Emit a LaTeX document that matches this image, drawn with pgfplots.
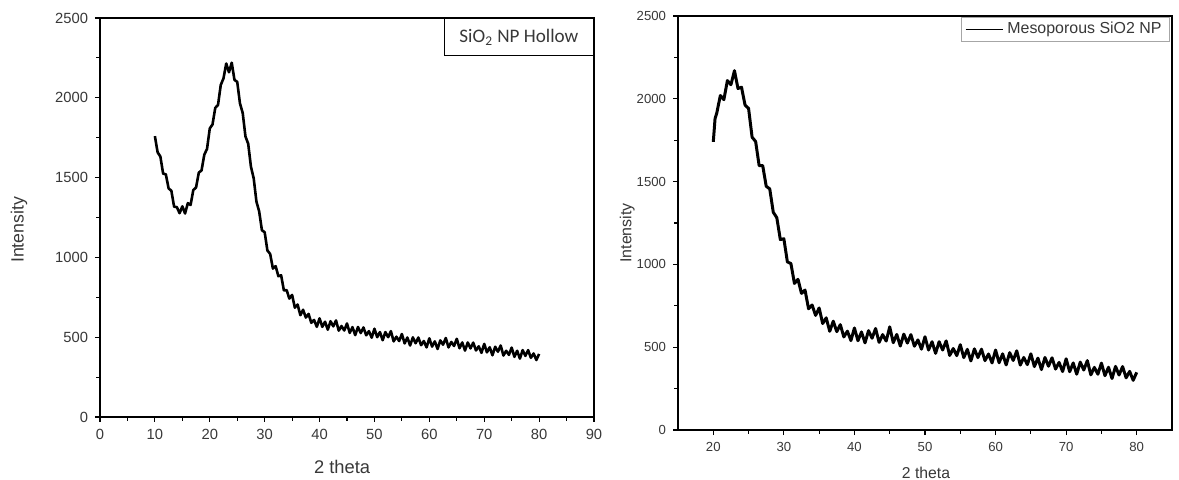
\documentclass[border=0pt]{standalone}
\usepackage{pgfplots}
\pgfplotsset{compat=1.18}
\usepackage{fontspec}
\setmainfont{Liberation Sans}
\newfontfamily\calibri{Carlito}

\definecolor{txt}{gray}{0.22}

\begin{document}
\begin{tikzpicture}
\useasboundingbox (0,0) rectangle (589.5bp,240bp);

% ---------------- left panel ----------------
\begin{axis}[
  at={(50bp,31.5bp)}, anchor=south west,
  scale only axis, width=247bp, height=199.5bp,
  xmin=0, xmax=90, ymin=0, ymax=2500,
  xtick={0,10,...,90}, minor xtick={5,15,...,85},
  ytick={0,500,...,2500}, minor ytick={250,750,...,2250},
  xtick pos=bottom, ytick pos=left,
  tick align=outside,
  major tick length=2.5bp, minor tick length=1.8bp,
  every tick/.style={black, line width=0.6pt},
  axis line style={line width=0.7pt},
  /pgf/number format/assume math mode=true,
  /pgf/number format/1000 sep={},
  tick label style={font=\fontsize{7.4}{8}\selectfont, text=txt},
  xlabel={2 theta}, ylabel={Intensity},
  xlabel style={at={(axis description cs:0.49,-0.125)}, anchor=center, font=\fontsize{9.2}{10}\selectfont, text=txt},
  ylabel style={at={(axis description cs:-0.164,0.469)}, anchor=center, font=\fontsize{8.9}{10}\selectfont, text=txt},
]
\addplot[black, line width=1.3pt, line join=round] coordinates {
(10.0,1760) (10.5,1658) (11.0,1632) (11.5,1525) (12.0,1520) (12.5,1432) (13.0,1418) (13.5,1318)
(14.0,1315) (14.5,1277) (15.0,1320) (15.5,1275) (16.0,1340) (16.5,1328) (17.0,1422) (17.5,1438)
(18.0,1531) (18.5,1545) (19.0,1643) (19.5,1680) (20.0,1808) (20.5,1833) (21.0,1937) (21.5,1955)
(22.0,2080) (22.5,2122) (23.0,2215) (23.5,2160) (24.0,2220) (24.5,2112) (25.0,2100) (25.5,1965)
(26.0,1905) (26.5,1758) (27.0,1712) (27.5,1568) (28.0,1496) (28.5,1350) (29.0,1288) (29.5,1170)
(30.0,1158) (30.5,1043) (31.0,1022) (31.5,930) (32.0,945) (32.5,882) (33.0,888) (33.5,793)
(34.0,795) (34.5,742) (35.0,765) (35.5,685) (36.0,705) (36.5,638) (37.0,672) (37.5,623)
(38.0,646) (38.5,590) (39.0,608) (39.5,565) (40.0,618) (40.5,565) (41.0,597) (41.5,547)
(42.0,600) (42.5,568) (43.0,605) (43.5,541) (44.0,570) (44.5,542) (45.0,586) (45.5,527)
(46.0,563) (46.5,513) (47.0,564) (47.5,526) (48.0,561) (48.5,512) (49.0,538) (49.5,497)
(50.0,553) (50.5,500) (51.0,532) (51.5,481) (52.0,532) (52.5,500) (53.0,538) (53.5,474)
(54.0,503) (54.5,476) (55.0,520) (55.5,461) (56.0,498) (56.5,448) (57.0,499) (57.5,462)
(58.0,498) (58.5,450) (59.0,476) (59.5,436) (60.0,493) (60.5,441) (61.0,474) (61.5,426)
(62.0,480) (62.5,453) (63.0,495) (63.5,436) (64.0,470) (64.5,445) (65.0,490) (65.5,431)
(66.0,467) (66.5,416) (67.0,467) (67.5,430) (68.0,466) (68.5,417) (69.0,443) (69.5,402)
(70.0,458) (70.5,405) (71.0,437) (71.5,387) (72.0,440) (72.5,409) (73.0,448) (73.5,385)
(74.0,415) (74.5,389) (75.0,435) (75.5,377) (76.0,415) (76.5,366) (77.0,419) (77.5,383)
(78.0,419) (78.5,371) (79.0,398) (79.5,357) (80.0,395)
};
\node[draw, line width=0.6pt, anchor=north east, minimum width=74.5bp, minimum height=18.5bp,
      inner sep=1bp, font=\calibri\fontsize{9.6}{11}\selectfont, text=txt]
  at (rel axis cs:1,1) {SiO\textsubscript{2} NP Hollow};
\end{axis}

% ---------------- right panel ----------------
\begin{axis}[
  at={(339bp,25bp)}, anchor=south west,
  scale only axis, width=247bp, height=207bp,
  xmin=15, xmax=85, ymin=0, ymax=2500,
  xtick={20,30,...,80}, minor xtick={25,35,...,75},
  ytick={0,500,...,2500}, minor ytick={250,750,...,2250},
  xtick pos=bottom, ytick pos=left,
  tick align=outside,
  major tick length=2.5bp, minor tick length=1.8bp,
  every tick/.style={black, line width=0.6pt},
  axis line style={line width=0.7pt},
  /pgf/number format/assume math mode=true,
  /pgf/number format/1000 sep={},
  tick label style={font=\fontsize{6.6}{7.5}\selectfont, text=txt},
  xlabel={2 theta}, ylabel={Intensity},
  xlabel style={at={(axis description cs:0.502,-0.104)}, anchor=center, font=\fontsize{7.9}{9}\selectfont, text=txt},
  ylabel style={at={(axis description cs:-0.103,0.476)}, anchor=center, font=\fontsize{8}{9}\selectfont, text=txt},
  legend style={at={(0.996,0.998)}, anchor=north east, draw=gray!70, line width=0.5pt,
                font=\fontsize{8}{9}\selectfont, text=txt, inner xsep=2bp, inner ysep=0.5bp},
  legend image code/.code={\draw[black, line width=0.7pt] (0bp,0bp) -- (18.5bp,0bp);},
  legend cell align=left,
]
\addplot[black, line width=1.5pt, line join=round] coordinates {
(20.0,1740) (20.25,1880) (20.5,1915) (21.0,2020) (21.5,1995) (22.0,2110) (22.5,2085) (23.0,2170)
(23.5,2062) (24.0,2070) (24.5,1962) (25.0,1942) (25.5,1768) (26.0,1742) (26.5,1596) (27.0,1597)
(27.5,1472) (28.0,1456) (28.5,1315) (29.0,1282) (29.5,1150) (30.0,1155) (30.5,1015) (31.0,1005)
(31.5,885) (32.0,910) (32.5,825) (33.0,845) (33.5,732) (34.0,755) (34.5,692) (35.0,737)
(35.5,643) (36.0,677) (36.5,596) (37.0,657) (37.5,594) (38.0,636) (38.5,562) (39.0,597)
(39.5,540) (40.0,616) (40.5,539) (41.0,592) (41.5,526) (42.0,600) (42.5,554) (43.0,613)
(43.5,529) (44.0,576) (44.5,537) (45.0,623) (45.5,527) (46.0,577) (46.5,507) (47.0,579)
(47.5,525) (48.0,576) (48.5,506) (49.0,544) (49.5,488) (50.0,563) (50.5,483) (51.0,533)
(51.5,463) (52.0,533) (52.5,483) (53.0,538) (53.5,450) (54.0,492) (54.5,449) (55.0,515)
(55.5,437) (56.0,487) (56.5,417) (57.0,490) (57.5,437) (58.0,488) (58.5,419) (59.0,459)
(59.5,405) (60.0,483) (60.5,406) (61.0,460) (61.5,393) (62.0,467) (62.5,420) (63.0,478)
(63.5,392) (64.0,438) (64.5,395) (65.0,460) (65.5,383) (66.0,434) (66.5,365) (67.0,438)
(67.5,385) (68.0,436) (68.5,368) (69.0,408) (69.5,353) (70.0,430) (70.5,352) (71.0,405)
(71.5,337) (72.0,410) (72.5,362) (73.0,419) (73.5,333) (74.0,378) (74.5,337) (75.0,404)
(75.5,328) (76.0,379) (76.5,311) (77.0,384) (77.5,332) (78.0,383) (78.5,315) (79.0,354)
(79.5,300) (80.0,348)
};
\addlegendentry{Mesoporous SiO2 NP}
\end{axis}
\end{tikzpicture}
\end{document}
